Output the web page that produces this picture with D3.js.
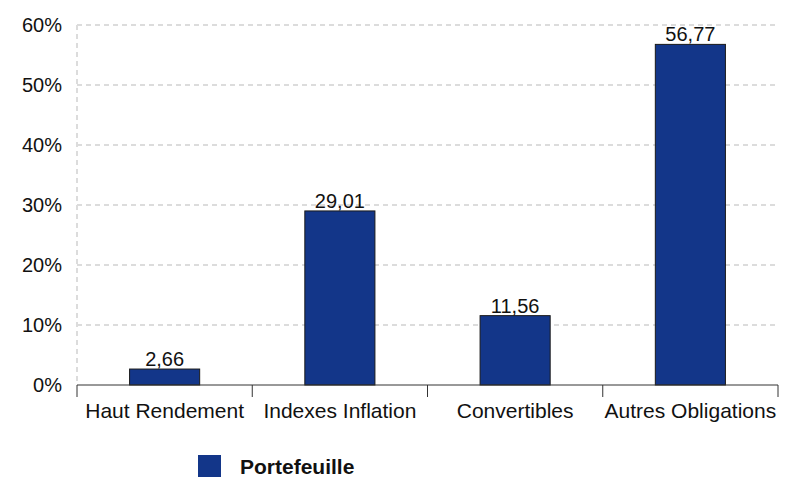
<!DOCTYPE html>
<html>
<head>
<meta charset="utf-8">
<script src="https://d3js.org/d3.v7.min.js"></script>
<style>
  body { margin: 0; background: #fff; }
  text { font-family: "Liberation Sans", Arial, sans-serif; }
</style>
</head>
<body>
<svg id="chart" width="791" height="478"></svg>
<script>
// data
const categories = ["Haut Rendement", "Indexes Inflation", "Convertibles", "Autres Obligations"];
const portefeuille = [2.66, 29.01, 11.56, 56.77];
const yTicks = [0, 10, 20, 30, 40, 50, 60];
const seriesName = "Portefeuille";

const svg = d3.select("#chart");
const margin = {top: 25, right: 13, bottom: 93, left: 77};
const width = 791 - margin.left - margin.right,
      height = 478 - margin.top - margin.bottom;

const g = svg.append("g").attr("transform", `translate(${margin.left},${margin.top})`);

const x = d3.scaleBand().domain(categories).range([0, width]).paddingInner(0.6).paddingOuter(0.3);
const y = d3.scaleLinear().domain([0, 60]).range([height, 0]);

// grid
g.selectAll(".grid")
  .data(yTicks.filter(d => d > 0))
  .join("line")
  .attr("x1", 0).attr("x2", width)
  .attr("y1", d => y(d)).attr("y2", d => y(d))
  .attr("stroke", "#dcdcdc").attr("stroke-width", 2)
  .attr("stroke-dasharray", "5,4");

g.append("line")
  .attr("x1", 0).attr("x2", 0)
  .attr("y1", 0).attr("y2", height)
  .attr("stroke", "#dcdcdc").attr("stroke-width", 2)
  .attr("stroke-dasharray", "5,4");

// y labels
g.selectAll(".ylab")
  .data(yTicks)
  .join("text")
  .attr("x", -15).attr("y", d => y(d))
  .attr("dy", "0.35em")
  .attr("text-anchor", "end")
  .attr("font-size", 20)
  .attr("fill", "#111")
  .text(d => d + "%");

// bars
g.selectAll(".bar")
  .data(portefeuille)
  .join("rect")
  .attr("x", (d, i) => x(categories[i]))
  .attr("width", x.bandwidth())
  .attr("y", d => y(d))
  .attr("height", d => height - y(d))
  .attr("fill", "#133689")
  .attr("stroke", "#1a1a1a")
  .attr("stroke-width", 1);

// value labels
g.selectAll(".val")
  .data(portefeuille)
  .join("text")
  .attr("x", (d, i) => x(categories[i]) + x.bandwidth() / 2)
  .attr("y", d => y(d) - 3)
  .attr("text-anchor", "middle")
  .attr("font-size", 20)
  .attr("fill", "#111")
  .text(d => d.toFixed(2).replace(".", ","));

// x axis
g.append("line")
  .attr("x1", 0).attr("x2", width)
  .attr("y1", height).attr("y2", height)
  .attr("stroke", "#333").attr("stroke-width", 1);

const step = width / categories.length;
g.selectAll(".tick")
  .data(d3.range(categories.length + 1))
  .join("line")
  .attr("x1", d => d * step).attr("x2", d => d * step)
  .attr("y1", height).attr("y2", height + 12)
  .attr("stroke", "#333").attr("stroke-width", 1);

g.selectAll(".xlab")
  .data(categories)
  .join("text")
  .attr("x", (d, i) => (i + 0.5) * step)
  .attr("y", height + 33)
  .attr("text-anchor", "middle")
  .attr("font-size", 21)
  .attr("fill", "#111")
  .text(d => d);

// legend
const lg = svg.append("g").attr("transform", "translate(198,455)");
lg.append("rect").attr("width", 23).attr("height", 22).attr("fill", "#133689");
lg.append("text")
  .attr("x", 42).attr("y", 19)
  .attr("font-size", 21).attr("font-weight", "bold")
  .attr("fill", "#111")
  .text(seriesName);
</script>
</body>
</html>
